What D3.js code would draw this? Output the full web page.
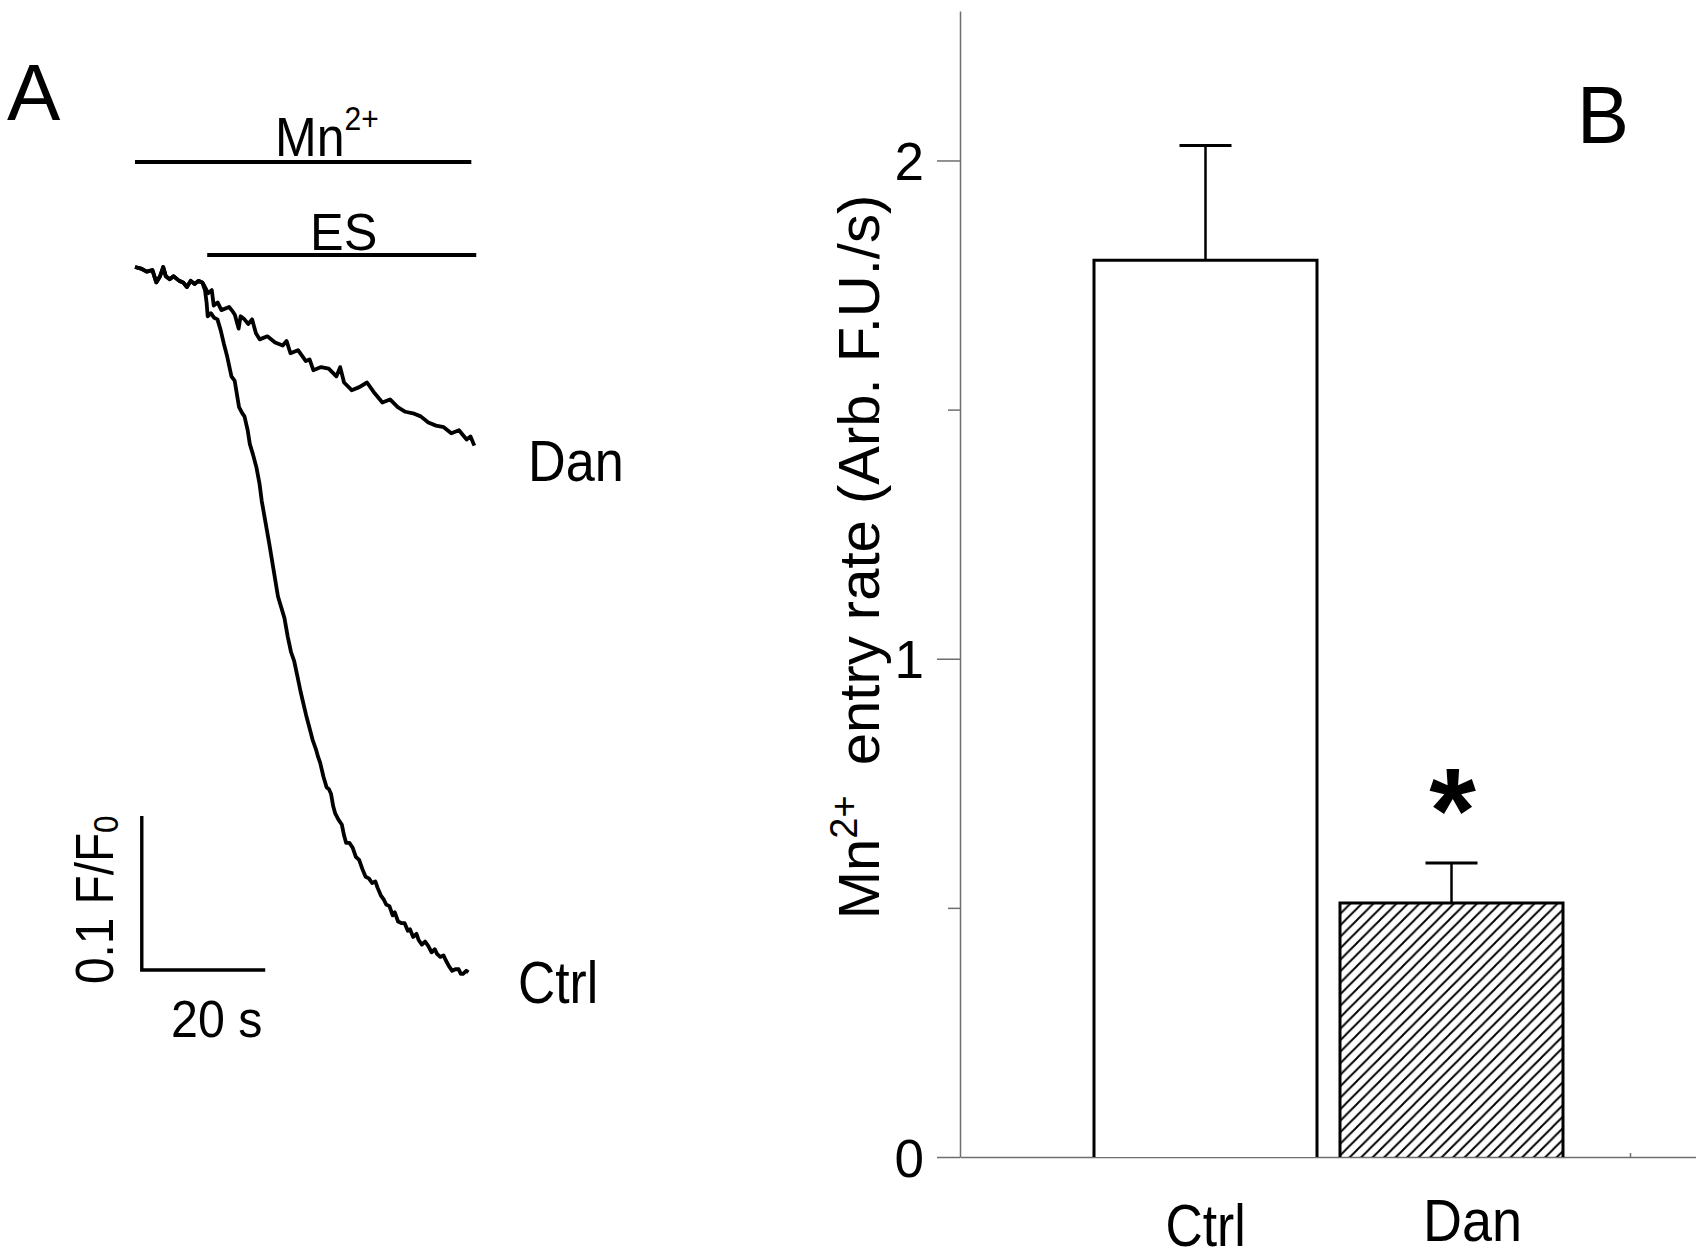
<!DOCTYPE html>
<html>
<head>
<meta charset="utf-8">
<script src="https://cdn.jsdelivr.net/npm/d3@7"></script>
<style>
    html, body { margin: 0; padding: 0; background: #fff; }
    svg { display: block; font-family: 'Liberation Sans', Arial, sans-serif; }
</style>
</head>
<body>
<div id="vis"></div>
<script>
// ---- panel A: Mn2+ quench traces, [time (s), F/F0] ----
const BASE_TRACE = [
    [0.00, 1.000], [0.96, 0.999], [1.89, 0.997], [2.82, 0.998], [3.45, 0.990],
    [4.06, 0.994], [4.57, 1.000], [4.99, 0.994], [5.62, 0.992], [6.24, 0.994],
    [7.17, 0.991], [7.80, 0.990], [8.41, 0.987], [9.04, 0.991], [9.66, 0.989],
    [10.27, 0.991], [10.90, 0.990]
]

const DAN_TRACE = [
    [11.22, 0.988], [11.83, 0.983], [12.44, 0.985], [12.76, 0.975], [13.39, 0.977],
    [14.00, 0.972], [15.25, 0.974], [15.86, 0.971], [16.18, 0.969], [16.79, 0.960],
    [17.11, 0.968], [17.74, 0.966], [18.35, 0.963], [18.97, 0.966], [19.60, 0.957],
    [20.21, 0.953], [21.45, 0.955], [22.70, 0.951], [23.94, 0.949], [24.56, 0.952],
    [25.19, 0.944], [26.42, 0.946], [27.66, 0.939], [28.29, 0.940], [28.90, 0.933],
    [30.15, 0.935], [31.39, 0.934], [32.64, 0.929], [33.25, 0.935], [33.88, 0.925],
    [35.11, 0.920], [36.35, 0.922], [37.60, 0.925], [38.84, 0.918], [40.09, 0.912],
    [41.33, 0.914], [42.58, 0.909], [43.81, 0.906], [45.05, 0.905], [46.30, 0.903],
    [47.54, 0.899], [48.78, 0.897], [50.03, 0.896], [51.26, 0.892], [52.50, 0.894],
    [53.74, 0.888], [54.37, 0.890], [54.99, 0.884]
]

const CTRL_TRACE = [
    [11.34, 0.985], [11.60, 0.977], [11.78, 0.968], [12.30, 0.970], [12.83, 0.967],
    [13.36, 0.966], [13.88, 0.959], [14.41, 0.950], [14.93, 0.942], [15.63, 0.929],
    [16.16, 0.926], [16.86, 0.909], [17.39, 0.905], [17.74, 0.903], [18.26, 0.894],
    [18.61, 0.885], [19.14, 0.878], [19.67, 0.870], [20.19, 0.859], [20.54, 0.848],
    [21.07, 0.836], [21.77, 0.820], [22.47, 0.803], [23.17, 0.786], [23.70, 0.779],
    [24.22, 0.772], [24.75, 0.760], [25.28, 0.750], [25.80, 0.744], [26.33, 0.734],
    [26.85, 0.724], [27.20, 0.718], [27.73, 0.709], [28.26, 0.701], [28.78, 0.693],
    [29.31, 0.687], [29.66, 0.682], [30.01, 0.678], [30.54, 0.669], [31.06, 0.662],
    [31.41, 0.661], [31.76, 0.658], [32.11, 0.650], [32.46, 0.645], [32.99, 0.641],
    [33.51, 0.638], [33.87, 0.631], [34.22, 0.626], [34.74, 0.626], [35.27, 0.623],
    [35.79, 0.617], [36.32, 0.615], [36.85, 0.609], [37.37, 0.604], [37.90, 0.603],
    [38.42, 0.600], [38.95, 0.601], [39.30, 0.597], [39.83, 0.592], [40.35, 0.589],
    [40.70, 0.586], [41.23, 0.585], [41.75, 0.579], [42.10, 0.581], [42.63, 0.575],
    [43.15, 0.574], [43.68, 0.574], [44.21, 0.569], [44.56, 0.570], [45.08, 0.565],
    [45.61, 0.567], [45.96, 0.563], [46.49, 0.560], [47.01, 0.562], [47.54, 0.559],
    [48.06, 0.555], [48.59, 0.557], [48.94, 0.554], [49.47, 0.552], [49.99, 0.553],
    [50.34, 0.550], [50.87, 0.546], [51.40, 0.543], [51.92, 0.544], [52.45, 0.544],
    [52.80, 0.541], [53.15, 0.541], [53.68, 0.543], [54.03, 0.542]
]

// application periods (s)
const MN_PERIOD = [0, 54.5]
const ES_PERIOD = [11.7, 55.3]

// scale bar: 20 s by 0.1 F/F0, anchored at its corner
const SCALE_BAR = {t: 1.1, f: 0.5435, dt: 20, df: 0.1}

// ---- panel B: Mn2+ entry rate ----
const CATEGORIES = ['Ctrl', 'Dan']
const MEANS = [1.80, 0.51]
const SEMS = [0.23, 0.08]
const Y_TICKS = [0, 1, 2]
const Y_MINOR_TICKS = [0.5, 1.5]

function renderSvg() {
    return d3.select('#vis')
        .append('svg')
        .attr('width', 1696)
        .attr('height', 1254)
}

// text squeezed horizontally, the original lettering is a bit narrow
function label(parent, x, y, txt, size, squeeze, opts = {}) {
    let g = parent.append('g')
        .attr('transform', `translate(${x},${y}) rotate(${opts.rotate || 0}) scale(${squeeze},1)`)
    let t = g.append('text')
        .attr('font-size', size)
        .attr('text-anchor', opts.anchor || 'start')
        .attr('font-weight', opts.weight || 'normal')
        .attr('fill', '#000')
    if (txt !== null) t.text(txt)
    return t
}

function renderTraces(svg) {
    let x = d3.scaleLinear().domain([0, 55]).range([135, 474.4])
    let y = d3.scaleLinear().domain([0.5, 1]).range([1037, 267])

    let line = d3.line()
        .x(d => x(d[0]))
        .y(d => y(d[1]))

    svg.selectAll('path.trace')
        .data([BASE_TRACE.concat(DAN_TRACE), BASE_TRACE.concat(CTRL_TRACE)])
        .enter().append('path')
        .classed('trace', true)
        .attr('d', line)
        .attr('fill', 'none')
        .attr('stroke', '#000')
        .attr('stroke-width', 3.8)
        .attr('stroke-linejoin', 'round')

    // Mn2+ and ES bars
    svg.append('line')
        .attr('x1', x(MN_PERIOD[0])).attr('x2', x(MN_PERIOD[1]))
        .attr('y1', 162).attr('y2', 162)
        .attr('stroke', '#000').attr('stroke-width', 4)
    svg.append('line')
        .attr('x1', x(ES_PERIOD[0])).attr('x2', x(ES_PERIOD[1]))
        .attr('y1', 255).attr('y2', 255)
        .attr('stroke', '#000').attr('stroke-width', 4)

    let mn = label(svg, 275, 156, null, 55, 0.91)
    mn.append('tspan').text('Mn')
    mn.append('tspan').attr('font-size', 33).attr('dy', -26).text('2+')
    label(svg, 310, 250, 'ES', 52, 0.97)

    label(svg, 528, 481, 'Dan', 58, 0.9)
    label(svg, 518, 1003, 'Ctrl', 60, 0.86)

    // scale bar
    let sb = d3.path()
    sb.moveTo(x(SCALE_BAR.t), y(SCALE_BAR.f + SCALE_BAR.df))
    sb.lineTo(x(SCALE_BAR.t), y(SCALE_BAR.f))
    sb.lineTo(x(SCALE_BAR.t + SCALE_BAR.dt), y(SCALE_BAR.f))
    svg.append('path')
        .attr('d', sb.toString())
        .attr('fill', 'none')
        .attr('stroke', '#000')
        .attr('stroke-width', 3.4)

    label(svg, 171, 1037, '20 s', 52, 0.93)
    let ff = label(svg, 113, 984, null, 53, 0.9, {rotate: -90})
    ff.append('tspan').text('0.1 F/F')
    ff.append('tspan').attr('font-size', 35).attr('dy', 5).text('0')

    label(svg, 7, 120, 'A', 80, 1)
}

function renderBars(svg) {
    let y = d3.scaleLinear().domain([0, 2.3]).range([1157, 11])
    let xLin = d3.scaleLinear().domain([0, 2.2]).range([960, 1697])
    let x = d3.scaleBand()
        .domain(CATEGORIES)
        .range([971, 1686])
        .paddingInner(0.0935)
        .paddingOuter(0.5)
    let bw = x.bandwidth()

    let defs = svg.append('defs')
    let pat = defs.append('pattern')
        .attr('id', 'hatch')
        .attr('patternUnits', 'userSpaceOnUse')
        .attr('width', 11.5)
        .attr('height', 11.5)
    pat.append('path')
        .attr('d', 'M-3,3 L3,-3 M0,11.5 L11.5,0 M8.5,14.5 L14.5,8.5')
        .attr('stroke', '#000')
        .attr('stroke-width', 1.9)

    let data = CATEGORIES.map((c, i) => ({cat: c, mean: MEANS[i], sem: SEMS[i]}))

    // axes first so the bars sit on top
    let yAxis = svg.append('g')
        .attr('transform', 'translate(960,0)')
        .call(d3.axisLeft(y).tickValues(Y_TICKS).tickSize(23).tickSizeOuter(0).tickPadding(13)
            .tickFormat(d3.format('d')))
    svg.append('g')
        .attr('transform', 'translate(960,0)')
        .call(d3.axisLeft(y).tickValues(Y_MINOR_TICKS).tickSize(12).tickSizeOuter(0).tickFormat(''))
        .call(g => g.select('.domain').remove())
    svg.append('g')
        .attr('transform', 'translate(0,1157)')
        .call(d3.axisBottom(xLin).tickValues([1, 2]).tickSizeInner(-4).tickSizeOuter(0).tickFormat(''))

    svg.selectAll('.domain, .tick line')
        .attr('stroke', '#6e6e6e')
        .attr('stroke-width', 1.5)
    yAxis.selectAll('.tick text')
        .attr('font-size', 53)
        .attr('font-family', "'Liberation Sans', Arial, sans-serif")
        .attr('fill', '#000')
        .attr('dy', '0.36em')

    let bars = svg.append('g')
        .selectAll('g')
        .data(data)
        .enter().append('g')

    bars.append('rect')
        .attr('x', d => x(d.cat))
        .attr('y', d => y(d.mean))
        .attr('width', bw)
        .attr('height', d => y(0) - y(d.mean))
        .attr('fill', d => d.cat === 'Dan' ? 'url(#hatch)' : '#fff')

    bars.append('path')
        .attr('d', d => `M${x(d.cat)},${y(0)} V${y(d.mean)} H${x(d.cat) + bw} V${y(0)}`)
        .attr('fill', 'none')
        .attr('stroke', '#000')
        .attr('stroke-width', 3)

    // SEM whiskers
    bars.append('line')
        .attr('x1', d => x(d.cat) + bw / 2)
        .attr('x2', d => x(d.cat) + bw / 2)
        .attr('y1', d => y(d.mean))
        .attr('y2', d => y(d.mean + d.sem))
        .attr('stroke', '#000')
        .attr('stroke-width', 2.5)
    bars.append('line')
        .attr('x1', d => x(d.cat) + bw / 2 - 26)
        .attr('x2', d => x(d.cat) + bw / 2 + 26)
        .attr('y1', d => y(d.mean + d.sem))
        .attr('y2', d => y(d.mean + d.sem))
        .attr('stroke', '#000')
        .attr('stroke-width', 3)

    // significance mark over Dan
    label(svg, x('Dan') + bw / 2 + 1, 852, '*', 120, 1, {anchor: 'middle', weight: 'bold'})

    // category names, the Dan one sits a little right of its bar
    let nudge = {Ctrl: [0, 1246], Dan: [21, 1241]}
    for (let c of CATEGORIES) {
        label(svg, x(c) + bw / 2 + nudge[c][0], nudge[c][1], c, 60, c === 'Ctrl' ? 0.86 : 0.9, {anchor: 'middle'})
    }

    // y title
    let title = label(svg, 879, 557, null, 58, 1, {rotate: -90, anchor: 'middle'})
    title.append('tspan').text('Mn')
    title.append('tspan').attr('font-size', 38).attr('dy', -22).text('2+')
    title.append('tspan').attr('dy', 22).attr('dx', 14).text(' entry rate (Arb. F.U./s)')

    label(svg, 1577, 143, 'B', 82, 0.95)
}

let svg = renderSvg()
renderTraces(svg)
renderBars(svg)
</script>
</body>
</html>
